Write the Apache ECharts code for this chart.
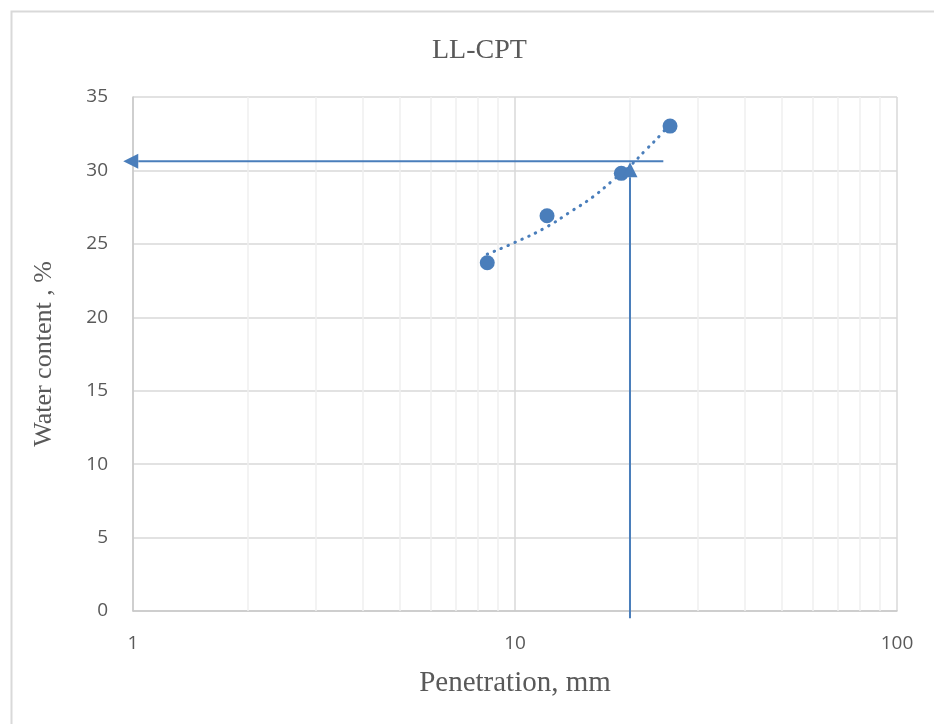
<!DOCTYPE html>
<html>
<head>
<meta charset="utf-8">
<script src="https://cdn.jsdelivr.net/npm/echarts@6/dist/echarts.min.js"></script>
<style>
html,body{margin:0;padding:0;background:#fff;}
#chart{width:934px;height:724px;}
</style>
</head>
<body>
<div id="chart"></div>
<script>
// Measured points (penetration mm, water content %)
var penetration = [8.46, 12.13, 18.98, 25.46];
var waterContent = [23.71, 26.91, 29.80, 33.02];

// Dotted trendline
var trendX = [8.46, 10, 12, 14, 16, 18, 20, 22, 24, 25.46];
var trendY = [24.3, 25.1, 26.1, 27.2, 28.2, 29.3, 30.3, 31.4, 32.4, 33.2];

// Annotation arrows: [fromX, fromY, toX, toY]
var arrowLines = [
  [24.45, 30.62, 0.943, 30.62],
  [20.0, -0.5, 20.0, 30.55]
];

// Minor log grid positions
var minorGrid = [2, 3, 4, 5, 6, 7, 8, 9, 20, 30, 40, 50, 60, 70, 80, 90];

var yTicks = [0, 5, 10, 15, 20, 25, 30, 35];

var BLUE = '#4a7ebb';
var TXT = '#595959';

var chart = echarts.init(document.getElementById('chart'), null, {renderer: 'canvas'});

var option = {
  backgroundColor: '#ffffff',
  animation: false,
  title: {
    text: 'LL-CPT',
    left: 427,
    top: 32,
    textStyle: {fontFamily: 'Liberation Serif', fontSize: 28, fontWeight: 'normal', color: TXT}
  },
  graphic: [{
    type: 'rect',
    left: 9, top: 9,
    shape: {x: 0, y: 0, width: 940, height: 740},
    style: {fill: 'none', stroke: '#d9d9d9', lineWidth: 2},
    silent: true, z: -10
  }],
  grid: {left: 133, top: 97, width: 764, height: 514, containLabel: false},
  xAxis: {
    type: 'log', logBase: 10, min: 1, max: 100,
    name: 'Penetration, mm', nameLocation: 'middle', nameGap: 58,
    nameTextStyle: {fontFamily: 'Liberation Serif', fontSize: 29, color: TXT},
    axisLine: {show: true, lineStyle: {color: '#c8c8c8', width: 1.5}},
    axisTick: {show: false},
    axisLabel: {fontFamily: 'Open Sans', fontSize: 19, color: TXT, margin: 23,
      formatter: function (v) { return String(v); }},
    splitLine: {show: true, lineStyle: {color: '#d9d9d9', width: 1.5}}
  },
  yAxis: {
    type: 'value', min: 0, max: 35, interval: 5,
    name: 'Water content , %', nameLocation: 'middle', nameGap: 76,
    nameTextStyle: {fontFamily: 'Liberation Serif', fontSize: 26, color: TXT},
    axisLine: {show: true, lineStyle: {color: '#c8c8c8', width: 1.5}},
    axisTick: {show: false},
    axisLabel: {fontFamily: 'Open Sans', fontSize: 19, color: TXT, margin: 25,
      formatter: function (v) { return yTicks.indexOf(v) >= 0 ? String(v) : ''; }},
    splitLine: {show: true, lineStyle: {color: '#d9d9d9', width: 1.5}}
  },
  series: [
    {
      type: 'line',
      name: 'minorGrid',
      data: [],
      silent: true,
      z: 0,
      markLine: {
        silent: true,
        symbol: 'none',
        label: {show: false},
        animation: false,
        lineStyle: {color: '#efefef', width: 1.5, type: 'solid'},
        data: minorGrid.map(function (v) { return {xAxis: v}; })
      }
    },
    {
      type: 'line',
      name: 'trend',
      data: trendX.map(function (x, i) { return [x, trendY[i]]; }),
      showSymbol: false,
      smooth: true,
      z: 3,
      lineStyle: {color: BLUE, width: 3, type: [0.5, 7], cap: 'round'}
    },
    {
      type: 'scatter',
      name: 'data',
      data: penetration.map(function (x, i) { return [x, waterContent[i]]; }),
      symbol: 'circle',
      symbolSize: 15,
      itemStyle: {color: BLUE, opacity: 1},
      z: 4
    },
    {
      type: 'custom',
      name: 'arrows',
      clip: false,
      z: 5,
      silent: true,
      dimensions: ['x1', 'y1', 'x2', 'y2'],
      encode: {x: [0, 2], y: [1, 3]},
      data: arrowLines,
      renderItem: function (params, api) {
        var p1 = api.coord([api.value(0), api.value(1)]);
        var p2 = api.coord([api.value(2), api.value(3)]);
        var dx = p2[0] - p1[0], dy = p2[1] - p1[1];
        var len = Math.sqrt(dx * dx + dy * dy);
        var ux = dx / len, uy = dy / len;
        var nx = -uy, ny = ux;
        var L = 15, W = 7.5;
        var bx = p2[0] - ux * L, by = p2[1] - uy * L;
        return {
          type: 'group',
          children: [
            {type: 'line', shape: {x1: p1[0], y1: p1[1], x2: bx, y2: by},
              style: {stroke: BLUE, lineWidth: 2}},
            {type: 'polygon', shape: {points: [[p2[0], p2[1]], [bx + nx * W, by + ny * W], [bx - nx * W, by - ny * W]]},
              style: {fill: BLUE}}
          ]
        };
      }
    }
  ]
};

chart.setOption(option);
</script>
</body>
</html>
